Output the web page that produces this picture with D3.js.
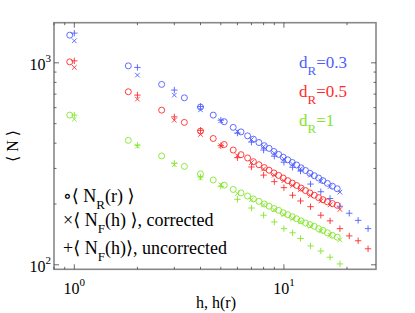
<!DOCTYPE html>
<html>
<head>
<meta charset="utf-8">
<title>N vs h, log-log</title>
<style>
body { margin: 0; background: #fff; }
#chart { width: 415px; height: 313px; display: block; }
</style>
</head>
<body>

<svg id="chart" width="415" height="313"></svg>

<script src="https://d3js.org/d3.v7.min.js"></script>
<script>

// h(r) positions of the circle markers (shared by the three d_R values)
const hR = [0.951, 1.81, 2.61, 3.35, 4.0, 4.6, 5.19, 5.73, 6.24, 6.71, 7.15, 7.6, 8.06, 8.5, 8.96,
  9.44, 9.92, 10.43, 10.96, 11.5, 12.08, 12.68, 13.3, 13.96, 14.64, 15.35, 16.12, 17.03, 17.96];
// h positions of the F markers
const hF = [1, 2, 3, 4, 5, 6, 7, 8, 9, 10, 11, 12, 13.4, 15, 16.6, 18.5, 20.5, 22.6, 25.2];

// <N_R(r)>
const nR03 = [1371, 966, 782, 671, 604, 551, 511, 479, 455, 435, 419, 403, 389, 377, 364,
  352, 341, 331, 321, 312, 302, 293, 284, 276, 269, 261, 253, 245, 238];
const nR05 = [1011, 719, 583, 507, 459, 422, 394, 370, 351, 338, 324, 313, 303, 294, 285,
  277, 269, 261, 254, 247, 240, 233, 227, 221, 215, 210, 205, 201, 197];
const nR1 = [551, 413, 346, 307, 282, 263, 248, 236, 227, 219, 212, 206, 200, 195, 190,
  186, 181, 177, 173, 169, 165, 161, 158, 155, 151, 148, 144, 140, 137];

// <N_F(h)>, corrected
const nFc03 = [1285, 869, 692, 585, 517, 457, 417, 385, 357, 334, 315, 299, 278, 260, 244, 229];
const nFc05 = [949, 661, 520, 442, 388, 347, 321, 298, 278, 261, 247, 236, 220, 207, 198, 188];
const nFc1 = [526, 387, 313, 269, 249, 225, 210, 198, 187, 177, 169, 163, 155, 147, 140, 133];

// <N_F(h)>, uncorrected
const nFu03 = [1403, 949, 733, 608, 520, 449, 405, 370, 345, 322, 304, 291, 251, 230, 213, 195, 180, 166, 151];
const nFu05 = [1023, 692, 540, 463, 389, 339, 305, 278, 258, 241, 221, 207, 194, 176, 165, 151, 139, 131.5, 120];
const nFu1 = [551, 391, 318, 272, 245, 211, 191, 176, 163, 151, 144, 135, 124, 117, 109, 101];

const seriesNames = ["d_R=0.3", "d_R=0.5", "d_R=1"];
const colors = ["#4f5dff", "#ff2b2b", "#84e52c"];
const xTicks = [1, 10];
const yTicks = [100, 1000];

const FONT = "'Liberation Serif', 'Times New Roman', 'DejaVu Serif', serif";

const svg = d3.select("#chart").attr("font-family", FONT);
const margin = { top: 22.7, right: 39, bottom: 43.7, left: 54 };
const W = 415, H = 313;

const x = d3.scaleLog().domain([0.8, 27.5]).range([margin.left, W - margin.right]);
const y = d3.scaleLog().domain([95, 1580]).range([H - margin.bottom, margin.top]);

const plot = svg.append("g");

// markers
function circles(xs, ys, c) {
  plot.append("g").selectAll("circle").data(ys).join("circle")
    .attr("cx", (d, i) => x(xs[i])).attr("cy", d => y(d))
    .attr("r", 3).attr("fill", "none").attr("stroke", c).attr("stroke-width", 0.9);
}
function crosses(xs, ys, c) {
  const s = 2.3;
  plot.append("g").selectAll("path").data(ys).join("path")
    .attr("d", (d, i) => {
      const cx = x(xs[i]), cy = y(d);
      return `M${cx - s},${cy - s}L${cx + s},${cy + s}M${cx - s},${cy + s}L${cx + s},${cy - s}`;
    })
    .attr("stroke", c).attr("stroke-width", 0.9).attr("fill", "none");
}
function pluses(xs, ys, c) {
  const s = 3.2;
  plot.append("g").selectAll("path").data(ys).join("path")
    .attr("d", (d, i) => {
      const cx = x(xs[i]), cy = y(d);
      return `M${cx - s},${cy}L${cx + s},${cy}M${cx},${cy - s}L${cx},${cy + s}`;
    })
    .attr("stroke", c).attr("stroke-width", 0.9).attr("fill", "none");
}

[[nR03, nFc03, nFu03], [nR05, nFc05, nFu05], [nR1, nFc1, nFu1]].forEach((s, k) => {
  circles(hR, s[0], colors[k]);
  crosses(hF, s[1], colors[k]);
  pluses(hF, s[2], colors[k]);
});

// axes box + ticks (inward, log minor ticks)
const x0 = x.range()[0], x1 = x.range()[1], y0 = y.range()[0], y1 = y.range()[1];
const ax = svg.append("g").attr("stroke", "#888").attr("fill", "none");
const tk = svg.append("g").attr("stroke", "#444").attr("fill", "none");

const xMinor = [];
for (let e = -1; e <= 1; e++) for (let m = 1; m < 10; m++) {
  const v = m * Math.pow(10, e);
  if (v >= x.domain()[0] && v <= x.domain()[1]) xMinor.push(v);
}
const yMinor = [];
for (let e = 1; e <= 3; e++) for (let m = 1; m < 10; m++) {
  const v = m * Math.pow(10, e);
  if (v >= y.domain()[0] && v <= y.domain()[1]) yMinor.push(v);
}
xMinor.forEach(v => {
  const len = xTicks.includes(v) ? 5 : 2.5;
  const px = x(v);
  tk.append("line").attr("x1", px).attr("x2", px).attr("y1", y0).attr("y2", y0 - len).attr("stroke-width", 0.8);
  tk.append("line").attr("x1", px).attr("x2", px).attr("y1", y1).attr("y2", y1 + len).attr("stroke-width", 0.8);
});
yMinor.forEach(v => {
  const len = yTicks.includes(v) ? 5 : 2.5;
  const py = y(v);
  tk.append("line").attr("x1", x0).attr("x2", x0 + len).attr("y1", py).attr("y2", py).attr("stroke-width", 0.8);
  tk.append("line").attr("x1", x1).attr("x2", x1 - len).attr("y1", py).attr("y2", py).attr("stroke-width", 0.8);
});
ax.append("rect").attr("x", x0).attr("y", y1).attr("width", x1 - x0).attr("height", y0 - y1)
  .attr("stroke-width", 1.6);

// tick labels 10^k
function powLabel(g, v) {
  const t = g.append("text").attr("font-size", 16).attr("fill", "#000");
  t.append("tspan").text("10");
  t.append("tspan").attr("font-size", 11).attr("dy", -8).text(Math.round(Math.log10(v)));
  return t;
}
xTicks.forEach(v => {
  powLabel(svg, v).attr("x", x(v)).attr("y", 294).attr("text-anchor", "middle");
});
yTicks.forEach(v => {
  powLabel(svg, v).attr("x", x0 - 3).attr("y", y(v) + 7).attr("text-anchor", "end");
});

// axis titles
svg.append("text").attr("font-size", 16).attr("text-anchor", "middle").attr("fill", "#000")
  .attr("x", 216).attr("y", 308).text("h, h(r)");
svg.append("text").attr("font-size", 16).attr("text-anchor", "middle").attr("fill", "#000")
  .attr("transform", "translate(18,146) rotate(-90)").text("\u27E8 N \u27E9");

// d_R labels
seriesNames.forEach((name, k) => {
  const [a, b] = name.split("_");
  const t = svg.append("text").attr("font-size", 17).attr("fill", colors[k])
    .attr("x", 299).attr("y", 68 + k * 29);
  t.append("tspan").text(a);
  t.append("tspan").attr("font-size", 13).attr("dy", 7).text(b[0]);
  t.append("tspan").attr("dy", -7).text(b.slice(1));
});

// marker legend
const legendRows = [
  ["\u2218\u27E8 N", "R", "(r) \u27E9", 201.5],
  ["\u00D7\u27E8 N", "F", "(h) \u27E9, corrected", 226],
  ["+\u27E8 N", "F", "(h)\u27E9, uncorrected", 254]
];
legendRows.forEach(r => {
  const t = svg.append("text").attr("font-size", 18).attr("x", 63).attr("y", r[3]).attr("fill", "#000");
  t.append("tspan").text(r[0]);
  t.append("tspan").attr("font-size", 13).attr("dy", 7).text(r[1]);
  t.append("tspan").attr("dy", -7).text(r[2]);
});

</script>
</body>
</html>
